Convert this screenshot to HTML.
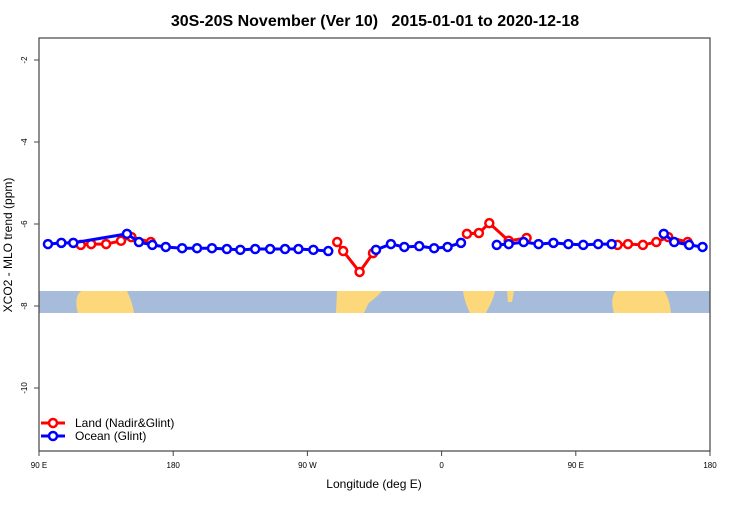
<!DOCTYPE html>
<html><head><meta charset="utf-8"><style>
body{margin:0;background:#fff;font-family:"Liberation Sans",sans-serif}
</style></head><body>
<svg id="chart" width="750" height="500" xmlns="http://www.w3.org/2000/svg">
<text x="375" y="26" text-anchor="middle" font-size="16" font-weight="bold" style="white-space:pre" xml:space="preserve">30S-20S November (Ver 10)   2015-01-01 to 2020-12-18</text>
<g id="band">
<rect x="39" y="291" width="671" height="22" fill="#a7bcda"/>
<path d="M78,313 C74,300 78,292 82,291 L127,291 C130,298 133,305 134,313 Z" fill="#fdd87a"/>
<path d="M336,313 L337,291 L382,291 C378,296 372,300 368,304 C366,309 365,311 364,313 Z" fill="#fdd87a"/>
<path d="M463,291 L495,291 C494,298 490,305 486,313 L470,313 C466,305 464,298 463,291 Z" fill="#fdd87a"/>
<path d="M507,291 L514,291 L512,302 L508,302 Z" fill="#fdd87a"/>
<path d="M614,313 C611,303 612,295 616,291 L664,291 C668,296 670,304 671,313 Z" fill="#fdd87a"/>
</g>
<rect x="39" y="38" width="671" height="413" fill="none" stroke="#444" stroke-width="1.2"/>
<g id="axes"></g>
<g id="series"></g>
<text x="374" y="488" text-anchor="middle" font-size="12">Longitude (deg E)</text>
<text transform="translate(12,245) rotate(-90)" text-anchor="middle" font-size="12">XCO2 - MLO trend (ppm)</text>
<g>
<line x1="41" y1="423" x2="65" y2="423" stroke="red" stroke-width="3"/>
<circle cx="53" cy="423" r="4" fill="#fff" stroke="red" stroke-width="2.5"/>
<text x="75" y="427" font-size="12">Land (Nadir&amp;Glint)</text>
<line x1="41" y1="436" x2="65" y2="436" stroke="blue" stroke-width="3"/>
<circle cx="53" cy="436" r="4" fill="#fff" stroke="blue" stroke-width="2.5"/>
<text x="75" y="440" font-size="12">Ocean (Glint)</text>
</g>
</svg>
<script>
const xTicks=[90,180,270,360,450,540];
const xTickLabels=["90 E","180","90 W","0","90 E","180"];
const yTicks=[-2,-4,-6,-8,-10];
const landLon=[118,125,135,145,152,165,290,294,305,314,377,385,392,405,417,478,485,495,504,512,525];
const landVal=[-6.51,-6.49,-6.49,-6.41,-6.32,-6.44,-6.44,-6.66,-7.17,-6.71,-6.24,-6.22,-5.98,-6.41,-6.34,-6.51,-6.49,-6.51,-6.44,-6.32,-6.44];
const landBreaks=[6,10,15];
const oceanLon=[96,105,113,149,157,166,175,186,196,206,216,225,235,245,255,264,274,284,316,326,335,345,355,364,373,397,405,415,425,435,445,455,465,474,509,516,526,535];
const oceanVal=[-6.49,-6.46,-6.46,-6.24,-6.44,-6.51,-6.56,-6.59,-6.59,-6.59,-6.61,-6.63,-6.61,-6.61,-6.61,-6.61,-6.63,-6.66,-6.63,-6.49,-6.56,-6.54,-6.59,-6.56,-6.46,-6.51,-6.49,-6.44,-6.49,-6.46,-6.49,-6.51,-6.49,-6.49,-6.24,-6.44,-6.51,-6.56];
const oceanBreaks=[18,25,34];
const X=l=>39+(l-90)*671/450;
const Y=v=>60+(-2-v)*41;
const NS="http://www.w3.org/2000/svg";
function mk(t,a,p){const e=document.createElementNS(NS,t);for(const k in a)e.setAttribute(k,a[k]);p.appendChild(e);return e;}
const ax=document.getElementById('axes');
xTicks.forEach((t,i)=>{
 const l=mk('line',{x1:X(t),x2:X(t),y1:451,y2:456,stroke:'#444'},ax);
 
 
 const tx=mk('text',{x:X(t),y:468,'text-anchor':'middle','font-size':'8'},ax);
 tx.textContent=xTickLabels[i];
 
 
});
yTicks.forEach(t=>{
 const l=mk('line',{x1:34,x2:39,y1:Y(t),y2:Y(t),stroke:'#444'},ax);
 
 
 const tx=mk('text',{transform:`translate(27,${Y(t)}) rotate(-90)`,'text-anchor':'middle','font-size':'8'},ax);
 tx.textContent=String(t);
 
 
});
const sg=document.getElementById('series');
function series(lons,vals,col,name,breaks){
 const g=mk('g',{},sg);
 
 
 let segs=[[0]];
 for(let i=1;i<lons.length;i++){
  if(breaks.includes(i))segs.push([i]);else segs[segs.length-1].push(i);
 }
 segs.forEach(s=>{
  if(s.length<2)return;
  const pl=mk('polyline',{points:s.map(i=>X(lons[i])+','+Y(vals[i])).join(' '),fill:'none',stroke:col,'stroke-width':3},g);
  
  
 });
 lons.forEach((l,i)=>{
  const c=mk('circle',{cx:X(l),cy:Y(vals[i]),r:4,fill:'#fff',stroke:col,'stroke-width':2.5},g);
  
  
 });
}
series(landLon,landVal,'red','land-series',landBreaks);
series(oceanLon,oceanVal,'blue','ocean-series',oceanBreaks);
</script>
</body></html>
